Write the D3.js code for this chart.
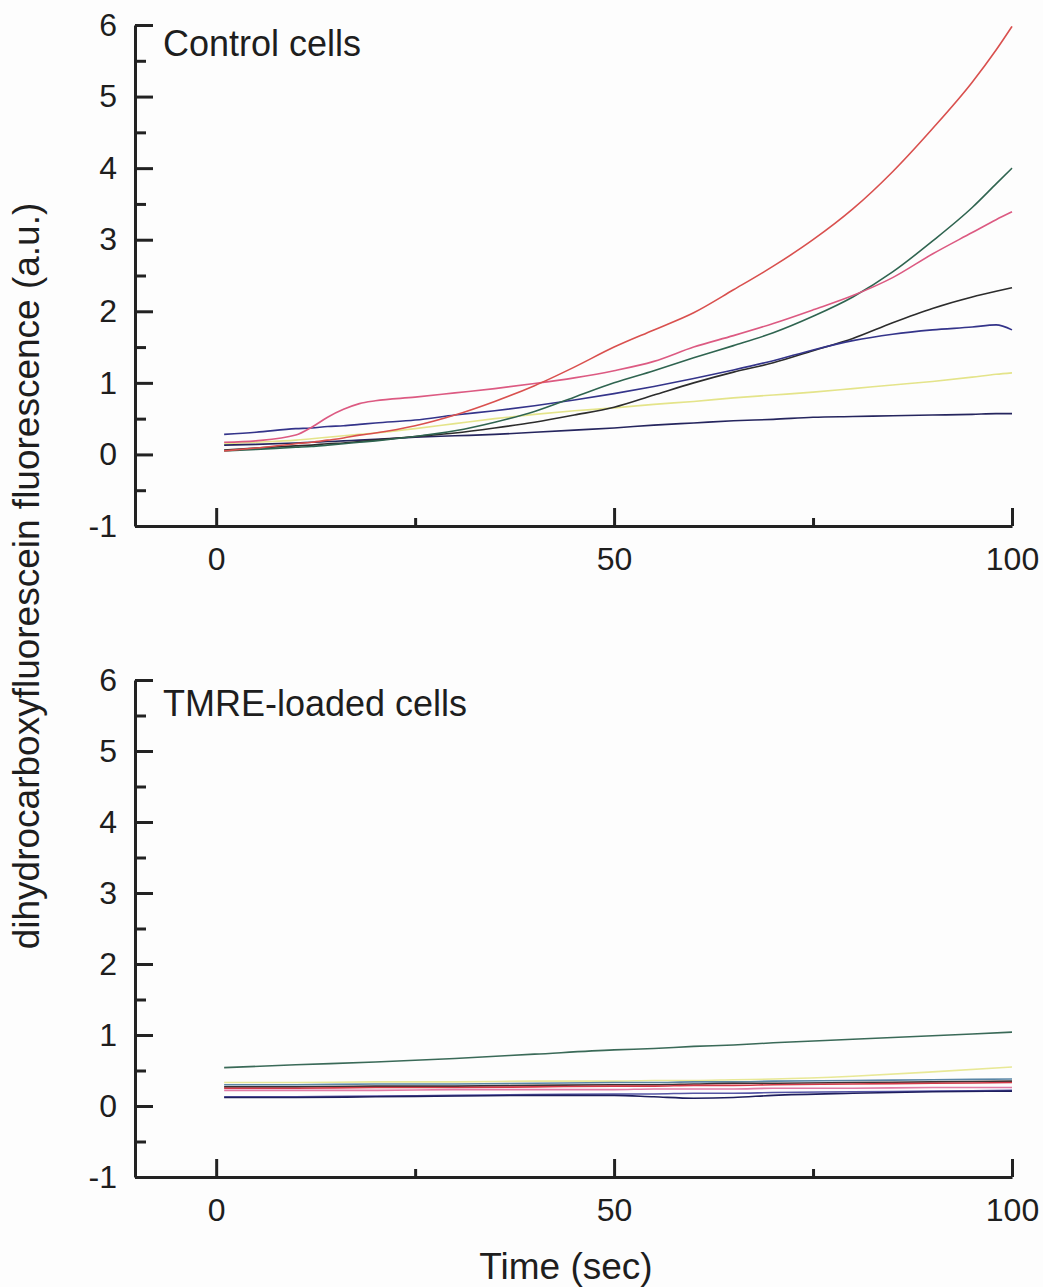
<!DOCTYPE html>
<html>
<head>
<meta charset="utf-8">
<script src="https://cdn.jsdelivr.net/npm/d3@7"></script>
<style>
  html, body { margin: 0; padding: 0; background: #fdfdfd; }
  svg { display: block; }
  text { font-family: "Liberation Sans", Arial, sans-serif; fill: #1e1e1e; }
</style>
</head>
<body>
<svg id="chart" width="1043" height="1287"></svg>
<script>
// Time points (sec) for control traces
const controlTime = [1, 5, 10, 12, 14, 16, 18, 20, 25, 30, 35, 40, 45, 50, 55, 60, 65, 70, 75, 80, 85, 90, 95, 98, 100];

// Control cells: fluorescence per cell (a.u.)
const controlRed    = [0.05, 0.09, 0.15, 0.17, 0.20, 0.23, 0.27, 0.30, 0.40, 0.55, 0.74, 0.96, 1.22, 1.50, 1.74, 1.98, 2.30, 2.63, 3.00, 3.43, 3.95, 4.55, 5.20, 5.65, 5.98];
const controlPink   = [0.17, 0.19, 0.27, 0.38, 0.52, 0.63, 0.71, 0.75, 0.80, 0.86, 0.92, 0.99, 1.07, 1.17, 1.30, 1.50, 1.66, 1.83, 2.02, 2.22, 2.47, 2.80, 3.10, 3.28, 3.39];
const controlGreen  = [0.05, 0.07, 0.10, 0.11, 0.13, 0.15, 0.17, 0.19, 0.25, 0.33, 0.45, 0.60, 0.80, 1.00, 1.17, 1.35, 1.52, 1.70, 1.93, 2.20, 2.55, 2.98, 3.45, 3.78, 4.00];
const controlBlue   = [0.28, 0.31, 0.36, 0.37, 0.39, 0.40, 0.42, 0.44, 0.48, 0.55, 0.61, 0.68, 0.76, 0.85, 0.95, 1.06, 1.18, 1.31, 1.46, 1.59, 1.68, 1.74, 1.78, 1.81, 1.74];
const controlBlack  = [0.06, 0.09, 0.12, 0.13, 0.15, 0.16, 0.18, 0.20, 0.25, 0.30, 0.37, 0.45, 0.55, 0.66, 0.83, 1.00, 1.15, 1.28, 1.45, 1.62, 1.84, 2.04, 2.20, 2.28, 2.33];
const controlYellow = [0.15, 0.17, 0.20, 0.22, 0.24, 0.26, 0.28, 0.30, 0.36, 0.43, 0.50, 0.56, 0.61, 0.65, 0.70, 0.74, 0.79, 0.83, 0.87, 0.92, 0.97, 1.02, 1.08, 1.12, 1.14];
const controlNavy   = [0.13, 0.14, 0.16, 0.17, 0.18, 0.19, 0.20, 0.21, 0.24, 0.26, 0.28, 0.31, 0.34, 0.37, 0.41, 0.44, 0.47, 0.49, 0.52, 0.53, 0.54, 0.55, 0.56, 0.57, 0.57];

// Time points (sec) for TMRE-loaded traces
const tmreTime = [1, 10, 20, 30, 40, 50, 55, 60, 65, 70, 80, 90, 100];

// TMRE-loaded cells: fluorescence per cell (a.u.)
const tmreGreen  = [0.54, 0.58, 0.62, 0.67, 0.73, 0.79, 0.81, 0.84, 0.86, 0.89, 0.94, 0.99, 1.04];
const tmreYellow = [0.33, 0.33, 0.34, 0.34, 0.35, 0.35, 0.36, 0.36, 0.37, 0.38, 0.42, 0.48, 0.55];
const tmreSteel  = [0.30, 0.30, 0.31, 0.31, 0.32, 0.33, 0.33, 0.34, 0.34, 0.35, 0.36, 0.37, 0.38];
const tmreBlack  = [0.27, 0.27, 0.28, 0.28, 0.29, 0.30, 0.30, 0.31, 0.32, 0.32, 0.33, 0.34, 0.35];
const tmreRed    = [0.25, 0.25, 0.26, 0.26, 0.27, 0.28, 0.28, 0.29, 0.29, 0.30, 0.31, 0.32, 0.33];
const tmrePink   = [0.22, 0.22, 0.22, 0.23, 0.23, 0.23, 0.24, 0.24, 0.24, 0.25, 0.25, 0.26, 0.26];
const tmreBlue   = [0.13, 0.13, 0.14, 0.15, 0.16, 0.17, 0.17, 0.18, 0.18, 0.19, 0.20, 0.21, 0.22];
const tmreNavy   = [0.12, 0.12, 0.13, 0.14, 0.15, 0.15, 0.13, 0.11, 0.12, 0.15, 0.18, 0.20, 0.21];

// Axis ticks
const yMajorTicks = [-1, 0, 1, 2, 3, 4, 5, 6];
const yMinorTicks = [-0.5, 0.5, 1.5, 2.5, 3.5, 4.5, 5.5];
const xMajorTicks = [0, 50, 100];
const xMinorTicks = [25, 75];

const panels = [
  {
    title: "Control cells",
    top: 25, bottom: 526, titleY: 56,
    time: controlTime,
    series: [
      { values: controlYellow, color: "#e4e48a" },
      { values: controlNavy,   color: "#25255e" },
      { values: controlBlack,  color: "#2c2c2c" },
      { values: controlBlue,   color: "#34348a" },
      { values: controlGreen,  color: "#2f6450" },
      { values: controlPink,   color: "#dc5a82" },
      { values: controlRed,    color: "#d9504e" }
    ]
  },
  {
    title: "TMRE-loaded cells",
    top: 680, bottom: 1177, titleY: 716,
    time: tmreTime,
    series: [
      { values: tmreYellow, color: "#e8e896" },
      { values: tmreSteel,  color: "#5a86a6" },
      { values: tmreBlack,  color: "#3a3232" },
      { values: tmreRed,    color: "#d23a48" },
      { values: tmrePink,   color: "#e07aa6" },
      { values: tmreBlue,   color: "#5656a6" },
      { values: tmreNavy,   color: "#1e1e5e" },
      { values: tmreGreen,  color: "#3a6a58" }
    ]
  }
];

const svg = d3.select("#chart");
const axisColor = "#222";
const tickFont = 32;

const x = d3.scaleLinear().domain([-10.2, 100]).range([135, 1012]);

panels.forEach(p => {
  const y = d3.scaleLinear().domain([-1, 6]).range([p.bottom, p.top]);
  const g = svg.append("g");

  // traces
  const line = d3.line()
    .x((d, i) => x(p.time[i]))
    .y(d => y(d))
    .curve(d3.curveMonotoneX);

  g.selectAll("path.trace")
    .data(p.series)
    .join("path")
    .attr("class", "trace")
    .attr("fill", "none")
    .attr("stroke", d => d.color)
    .attr("stroke-width", 1.6)
    .attr("d", d => line(d.values));

  // y axis: major ticks pointing inward with labels
  const yAxis = g.append("g")
    .attr("transform", `translate(${x(-10.2)},0)`)
    .call(d3.axisLeft(y).tickValues(yMajorTicks).tickSize(-18).tickSizeOuter(0).tickPadding(18).tickFormat(d3.format("d")));
  yAxis.select(".domain").attr("stroke", axisColor).attr("stroke-width", 3);
  yAxis.selectAll(".tick line").attr("stroke", axisColor).attr("stroke-width", 3);
  yAxis.selectAll(".tick text").attr("font-size", tickFont).attr("fill", "#1e1e1e")
    .text(d => d < 0 ? "-" + Math.abs(d) : d);

  const yMinor = g.append("g")
    .attr("transform", `translate(${x(-10.2)},0)`)
    .call(d3.axisLeft(y).tickValues(yMinorTicks).tickSize(-11).tickSizeOuter(0).tickFormat(""));
  yMinor.select(".domain").remove();
  yMinor.selectAll(".tick line").attr("stroke", axisColor).attr("stroke-width", 3);

  // x axis: ticks pointing upward
  const xAxis = g.append("g")
    .attr("transform", `translate(0,${p.bottom})`)
    .call(d3.axisBottom(x).tickValues(xMajorTicks).tickSize(-18).tickSizeOuter(0).tickPadding(21).tickFormat(d3.format("d")));
  xAxis.select(".domain").attr("stroke", axisColor).attr("stroke-width", 3);
  xAxis.selectAll(".tick line").attr("stroke", axisColor).attr("stroke-width", 3);
  xAxis.selectAll(".tick text").attr("font-size", tickFont).attr("fill", "#1e1e1e");

  const xMinor = g.append("g")
    .attr("transform", `translate(0,${p.bottom})`)
    .call(d3.axisBottom(x).tickValues(xMinorTicks).tickSize(-8).tickSizeOuter(0).tickFormat(""));
  xMinor.select(".domain").remove();
  xMinor.selectAll(".tick line").attr("stroke", axisColor).attr("stroke-width", 3);

  // panel title
  g.append("text")
    .attr("x", 163)
    .attr("y", p.titleY)
    .attr("font-size", 36)
    .text(p.title);
});

// shared axis titles
svg.append("text")
  .attr("x", 566)
  .attr("y", 1279)
  .attr("text-anchor", "middle")
  .attr("font-size", 37)
  .text("Time (sec)");

svg.append("text")
  .attr("transform", "translate(39,576) rotate(-90)")
  .attr("text-anchor", "middle")
  .attr("font-size", 37)
  .text("dihydrocarboxyfluorescein fluorescence (a.u.)");
</script>
</body>
</html>
